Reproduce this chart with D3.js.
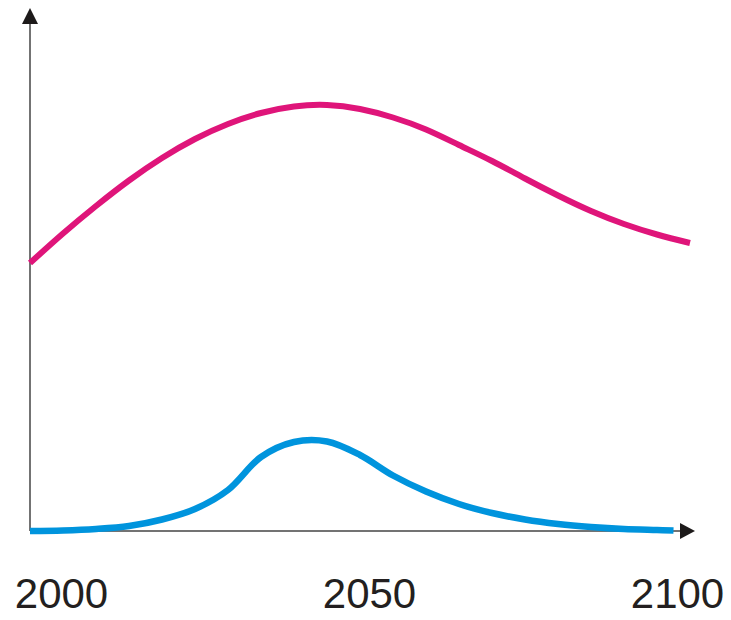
<!DOCTYPE html>
<html>
<head>
<meta charset="utf-8">
<script src="https://cdn.jsdelivr.net/npm/d3@7/dist/d3.min.js"></script>
<style>
  html, body { margin: 0; padding: 0; background: #fff; }
  svg { display: block; }
</style>
</head>
<body>
<svg id="chart" width="731" height="620"></svg>
<script>
// ---- data ----
const years = [2000, 2005, 2010, 2015, 2020, 2025, 2030, 2035, 2040, 2045, 2050,
               2055, 2060, 2065, 2070, 2075, 2080, 2085, 2090, 2095, 2100];
const pinkValues = [53.6, 59.5, 65.0, 70.1, 74.6, 78.4, 81.4, 83.6, 84.9, 85.2, 84.4,
                    82.7, 80.3, 77.2, 74.0, 70.5, 67.1, 64.0, 61.4, 59.3, 57.6];
const blueYears = [2000, 2005, 2010, 2015, 2020, 2025, 2030, 2035, 2040, 2045, 2050,
                   2055, 2060, 2065, 2070, 2075, 2080, 2085, 2090, 2095, 2097.5];
const blueValues = [0.0, 0.1, 0.4, 1.0, 2.3, 4.4, 8.2, 14.8, 17.8, 17.9, 15.2,
                    11.1, 7.9, 5.4, 3.6, 2.3, 1.4, 0.8, 0.4, 0.2, 0.1];
const tickYears = [2000, 2050, 2100];

// ---- layout ----
const svg = d3.select("#chart");
const x = d3.scaleLinear().domain([2000, 2100]).range([30, 690]);
const y = d3.scaleLinear().domain([0, 100]).range([531, 31]);
const xLabel = d3.scaleLinear().domain([2000, 2100]).range([61, 677]);

const axisColor = "#444";
// y axis line
svg.append("line")
  .attr("x1", x(2000)).attr("x2", x(2000))
  .attr("y1", y(0)).attr("y2", 22)
  .attr("stroke", axisColor).attr("stroke-width", 1.5);
// x axis line
svg.append("line")
  .attr("x1", x(2000)).attr("x2", 682)
  .attr("y1", y(0)).attr("y2", y(0))
  .attr("stroke", axisColor).attr("stroke-width", 1.5);
// arrowheads
svg.append("path")
  .attr("d", `M${x(2000)},8 L${x(2000)-8},24 L${x(2000)+8},24 Z`)
  .attr("fill", "#1d1a1a");
svg.append("path")
  .attr("d", `M695,${y(0)} L680,${y(0)-8} L680,${y(0)+8} Z`)
  .attr("fill", "#1d1a1a");

// lines
const pinkLine = d3.line()
  .x(d => x(d[0]))
  .y(d => y(d[1]))
  .curve(d3.curveNatural);
const blueLine = d3.line()
  .x(d => x(d[0]))
  .y(d => y(d[1]))
  .curve(d3.curveCatmullRom.alpha(0.5));

svg.append("path")
  .datum(years.map((yr, i) => [yr, pinkValues[i]]))
  .attr("d", pinkLine)
  .attr("fill", "none")
  .attr("stroke", "#DF157A")
  .attr("stroke-width", 6);

svg.append("path")
  .datum(blueYears.map((yr, i) => [yr, blueValues[i]]))
  .attr("d", blueLine)
  .attr("fill", "none")
  .attr("stroke", "#0094DD")
  .attr("stroke-width", 6.5);

// tick labels
const axis = d3.axisBottom(xLabel)
  .tickValues(tickYears)
  .tickFormat(d3.format("d"))
  .tickSize(0)
  .tickPadding(0);
const gAxis = svg.append("g")
  .attr("transform", "translate(0,578)")
  .call(axis);
gAxis.select(".domain").remove();
gAxis.selectAll("text")
  .attr("dy", null)
  .attr("y", 30)
  .attr("fill", "#231f20")
  .style("font-family", "'Liberation Sans', Arial, sans-serif")
  .style("font-size", "42px");
</script>
</body>
</html>
